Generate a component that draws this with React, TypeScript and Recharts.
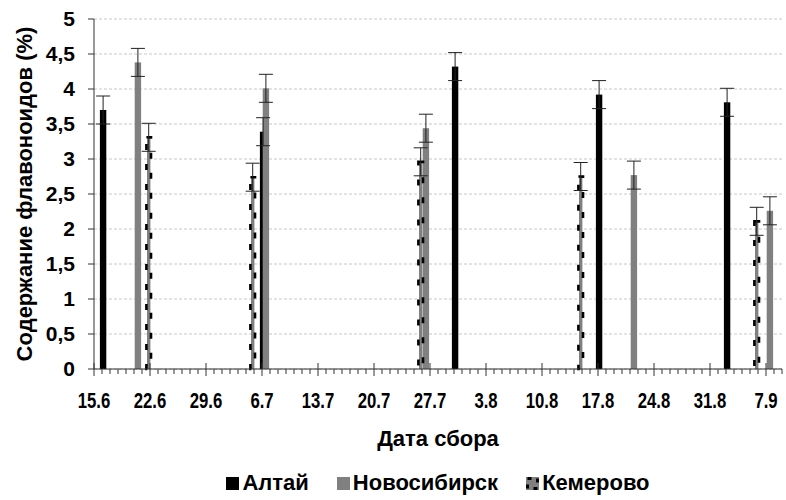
import React from 'react';
import { BarChart, Bar, XAxis, YAxis, CartesianGrid, ErrorBar, Legend, Label } from 'recharts';

// calendar of the collection season, one category per day
const firstDay = 15;
const firstMonth = 6;
const monthLengths: Record<number, number> = { 6: 30, 7: 31, 8: 31, 9: 30 };
const dayCount = 86;

const tickDays = [0, 7, 14, 21, 28, 35, 42, 49, 56, 63, 70, 77, 84];
const tickLabels = ['15.6', '22.6', '29.6', '6.7', '13.7', '20.7', '27.7', '3.8', '10.8', '17.8', '24.8', '31.8', '7.9'];
const yTicks = [0, 0.5, 1, 1.5, 2, 2.5, 3, 3.5, 4, 4.5, 5];

const altaiDates = ['16.6', '6.7', '30.7', '17.8', '2.9'];
const altaiValues = [3.7, 3.39, 4.32, 3.92, 3.81];
const altaiErrors = [0.2, 0.2, 0.2, 0.2, 0.2];

const novoDates = ['20.6', '6.7', '26.7', '21.8', '7.9'];
const novoValues = [4.38, 4.01, 3.44, 2.77, 2.26];
const novoErrors = [0.2, 0.2, 0.2, 0.2, 0.2];

const kemDates = ['21.6', '4.7', '25.7', '14.8', '5.9'];
const kemValues = [3.31, 2.74, 2.96, 2.75, 2.11];
const kemErrors = [0.2, 0.2, 0.2, 0.2, 0.2];

const dates: string[] = [];
{
  let d = firstDay;
  let m = firstMonth;
  for (let i = 0; i < dayCount; i++) {
    dates.push(`${d}.${m}`);
    d++;
    if (d > monthLengths[m]) {
      d = 1;
      m++;
    }
  }
}

const pick = (list: string[], values: number[], date: string) => {
  const i = list.indexOf(date);
  return i < 0 ? undefined : values[i];
};

const data = dates.map((date, idx) => ({
  idx,
  date,
  altai: pick(altaiDates, altaiValues, date),
  altaiErr: pick(altaiDates, altaiErrors, date),
  novo: pick(novoDates, novoValues, date),
  novoErr: pick(novoDates, novoErrors, date),
  kem: pick(kemDates, kemValues, date),
  kemErr: pick(kemDates, kemErrors, date),
}));

const dayTicks = Array.from({ length: dayCount + 1 }, (_, i) => i);

const GRAY = '#808080';
const AXIS = '#333';
const FONT = "'Liberation Sans', Arial, sans-serif";

// Excel-like thick bars: widen the rectangle sideways
const wideBar = (fill: string) => (props: any) => {
  const { x, y, width, height } = props;
  if (!height || !Number.isFinite(height)) return <g />;
  return <rect x={x - 2.1} y={y} width={width + 4.2} height={height} fill={fill} />;
};

const KemShape = (props: any) => {
  const { x, y, width, height } = props;
  if (!height || !Number.isFinite(height)) return <g />;
  return (
    <g>
      <rect x={x - 0.6} y={y} width={width + 1.2} height={height} fill={GRAY} />
      <rect
        x={x - 1.2}
        y={y}
        width={width + 2.4}
        height={height}
        fill="none"
        stroke="#000"
        strokeWidth={2.6}
        strokeDasharray="6 14"
      />
    </g>
  );
};

const DayTick = (props: any) => {
  const { x, y, payload } = props;
  const i = tickDays.indexOf(payload.value);
  const major = i >= 0;
  return (
    <g>
      <line x1={x} x2={x} y1={major ? y - 6 : y} y2={major ? y + 7 : y + 5} stroke={AXIS} strokeWidth={1} />
      {major && (
        <text
          transform={`translate(${x}, ${y + 39}) scale(0.76, 1)`}
          textAnchor="middle"
          fontFamily={FONT}
          fontWeight="bold"
          fontSize={22}
          fill="#000"
        >
          {tickLabels[i]}
        </text>
      )}
    </g>
  );
};

const YTitle = (props: any) => {
  const { viewBox } = props;
  const cx = viewBox.x + 24;
  const cy = viewBox.y + viewBox.height / 2;
  return (
    <text
      x={cx}
      y={cy}
      transform={`rotate(-90, ${cx}, ${cy})`}
      textAnchor="middle"
      dominantBaseline="central"
      fontFamily={FONT}
      fontWeight="bold"
      fontSize={22}
      fill="#000"
    >
      Содержание флавоноидов (%)
    </text>
  );
};

const XTitle = (props: any) => {
  const { viewBox } = props;
  return (
    <text
      x={viewBox.x + viewBox.width / 2}
      y={viewBox.y + 77}
      textAnchor="middle"
      fontFamily={FONT}
      fontWeight="bold"
      fontSize={22}
      fill="#000"
    >
      Дата сбора
    </text>
  );
};

const legendItems = [
  { name: 'Алтай', color: '#000', dashed: false },
  { name: 'Новосибирск', color: GRAY, dashed: false },
  { name: 'Кемерово', color: GRAY, dashed: true },
];

const renderLegend = () => (
  <div
    style={{
      height: 26,
      display: 'flex',
      justifyContent: 'center',
      alignItems: 'center',
      gap: 28,
      fontFamily: FONT,
      fontWeight: 'bold',
      fontSize: 22,
      color: '#000',
    }}
  >
    {legendItems.map((item) => (
      <span key={item.name} style={{ display: 'flex', alignItems: 'center', gap: 3 }}>
        <svg width={13} height={13}>
          <rect x={0} y={0} width={13} height={13} fill={item.color} />
          {item.dashed && (
            <rect x={1.5} y={1.5} width={10} height={10} fill="none" stroke="#000" strokeWidth={3} strokeDasharray="4 6" />
          )}
        </svg>
        {item.name}
      </span>
    ))}
  </div>
);

export default function App() {
  return (
    <div style={{ position: 'absolute', left: 0, top: 0, background: '#fff' }}>
      <BarChart
        width={786}
        height={500}
        data={data}
        margin={{ top: 19, right: 4, left: 0, bottom: 15 }}
        barSize={2.2}
        barGap={0.6}
      >
        <CartesianGrid xAxisId="days" vertical={false} stroke="#c8c8c8" strokeDasharray="3 2" />
        <XAxis
          xAxisId="days"
          dataKey="idx"
          type="number"
          domain={[0, dayCount]}
          allowDataOverflow
          ticks={dayTicks}
          interval={0}
          tick={<DayTick />}
          tickLine={false}
          tickSize={0}
          tickMargin={0}
          axisLine={{ stroke: AXIS }}
          height={90}
        >
          <Label content={<XTitle />} />
        </XAxis>
        <XAxis xAxisId="cat" dataKey="date" type="category" hide height={0} />
        <YAxis
          domain={[0, 5]}
          ticks={yTicks}
          interval={0}
          width={94}
          tickSize={6}
          tickMargin={13}
          tickFormatter={(v: number) => String(v).replace('.', ',')}
          tick={{ fontFamily: FONT, fontWeight: 'bold', fontSize: 21, fill: '#000' }}
          tickLine={{ stroke: AXIS }}
          axisLine={{ stroke: AXIS }}
        >
          <Label content={<YTitle />} />
        </YAxis>
        <Legend verticalAlign="bottom" content={renderLegend} wrapperStyle={{ left: 94, width: 688, bottom: 4 }} />
        <Bar xAxisId="cat" dataKey="altai" name="Алтай" fill="#000" shape={wideBar('#000')} isAnimationActive={false}>
          <ErrorBar dataKey="altaiErr" width={7} stroke="#222" strokeWidth={1} direction="y" isAnimationActive={false} />
        </Bar>
        <Bar xAxisId="cat" dataKey="novo" name="Новосибирск" fill={GRAY} shape={wideBar(GRAY)} isAnimationActive={false}>
          <ErrorBar dataKey="novoErr" width={7} stroke="#222" strokeWidth={1} direction="y" isAnimationActive={false} />
        </Bar>
        <Bar xAxisId="cat" dataKey="kem" name="Кемерово" fill={GRAY} shape={<KemShape />} isAnimationActive={false}>
          <ErrorBar dataKey="kemErr" width={7} stroke="#222" strokeWidth={1} direction="y" isAnimationActive={false} />
        </Bar>
      </BarChart>
    </div>
  );
}
